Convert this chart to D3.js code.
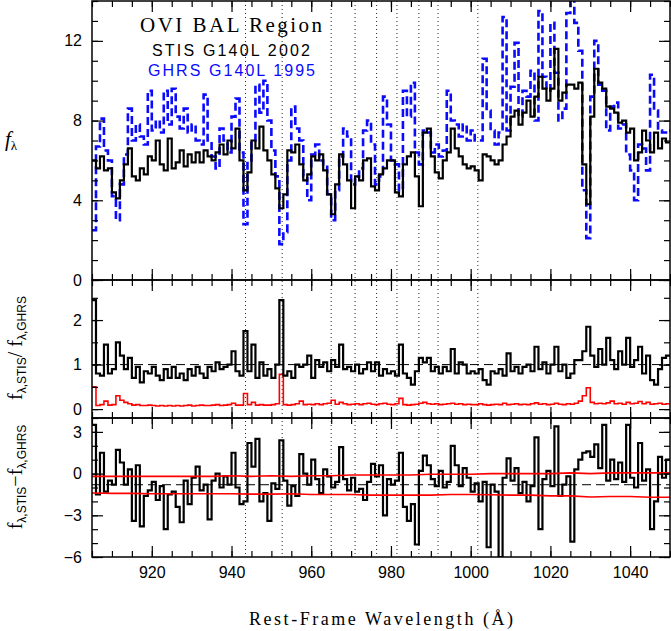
<!DOCTYPE html>
<html>
<head>
<meta charset="utf-8">
<script src="https://cdn.jsdelivr.net/npm/d3@7"></script>
<style>
body{margin:0;background:#fff}
svg{display:block}
.tk text{font-family:'Liberation Sans',Arial,sans-serif;font-size:16px;fill:#000}
.tk line{stroke:#000;stroke-width:1.2}
</style>
</head>
<body>
<svg id="chart" width="671" height="631"></svg>
<script>
// 1 A bins, left edges 905 .. 1049
const wave = d3.range(905, 1050, 1);
const stis = [
 6.0,5.6,6.2,5.5,5.6,4.4,4.1,5.0,5.8,6.6,
 5.2,5.0,5.6,5.3,6.2,6.0,7.0,5.8,5.5,7.1,
 5.6,5.9,6.5,5.7,6.3,5.9,6.4,5.9,6.5,6.2,
 6.0,6.4,6.8,6.3,7.0,6.6,7.6,6.0,4.5,5.4,
 7.0,6.6,7.7,6.5,6.0,5.3,4.6,3.6,4.3,6.5,
 6.4,6.8,5.8,5.0,5.3,6.2,6.0,6.3,5.5,4.3,
 3.3,4.8,6.3,5.8,5.0,3.6,5.2,5.0,6.0,6.1,
 4.7,4.5,5.3,5.6,6.0,6.0,4.4,4.2,5.8,6.2,
 6.4,5.2,3.7,7.4,7.6,6.2,5.4,5.1,6.0,6.4,
 7.6,6.6,6.2,5.8,5.6,5.7,5.5,5.0,6.3,6.2,
 6.0,5.8,6.0,6.8,7.2,8.2,8.5,7.8,8.4,9.0,
 8.2,9.2,10.2,9.6,9.0,9.6,11.6,9.0,9.4,9.8,
 9.8,9.6,9.9,5.8,3.8,8.2,10.6,9.9,9.6,8.7,
 8.6,8.4,7.9,8.0,7.4,7.6,6.0,6.4,7.5,7.0,
 6.4,7.4,6.6,7.1,6.9];
const ghrs = [
 2.5,6.7,8.1,6.5,6.0,4.2,3.0,4.8,6.3,8.6,
 7.0,7.8,7.2,6.8,9.5,7.5,8.0,7.4,9.5,7.8,
 9.6,8.2,7.6,8.6,7.4,7.8,7.0,6.8,9.3,7.0,
 6.2,5.6,7.6,7.0,6.4,8.2,9.1,6.4,2.8,6.0,
 7.0,9.8,8.4,10.0,8.0,6.5,5.2,1.8,2.4,6.0,
 8.7,7.6,7.0,5.2,4.0,6.3,6.8,6.0,5.8,4.3,
 3.0,4.5,6.2,7.6,7.2,4.8,5.2,5.6,7.5,8.0,
 6.8,4.8,5.2,9.2,7.8,6.0,5.8,4.5,9.5,8.2,
 9.9,6.4,5.8,7.5,7.4,6.4,6.8,6.2,6.5,9.5,
 8.0,7.8,7.2,7.8,7.0,7.5,7.0,7.0,11.1,8.5,
 7.5,6.8,7.4,13.2,7.5,9.7,11.9,8.2,9.5,9.2,
 10.5,8.0,13.5,10.2,9.5,12.9,10.4,8.0,8.6,13.4,
 14.2,12.9,11.5,4.5,2.1,9.2,12.0,9.8,9.5,7.5,
 8.7,8.9,7.6,7.8,6.3,5.5,4.0,6.8,6.6,5.5,
 10.3,8.5,7.5,7.4,7.5];
const ratio = [
 2.45,0.8,0.75,1.45,0.8,0.9,1.5,1.2,0.9,1.15,
 0.7,0.95,0.6,0.85,0.8,0.95,0.75,0.65,0.9,0.7,
 0.95,0.7,0.8,0.65,0.9,0.75,0.95,0.8,0.7,0.95,
 0.85,1.05,0.9,0.95,1.0,1.3,0.85,0.75,1.75,0.85,
 1.45,0.7,1.05,0.75,0.9,0.7,1.0,2.45,0.75,0.85,
 0.7,1.0,0.95,1.0,1.2,0.7,1.1,0.95,1.05,0.85,
 1.1,0.95,1.45,0.9,0.95,0.85,1.0,0.8,0.9,1.05,
 0.85,1.05,0.75,0.9,0.8,0.85,0.75,1.45,0.8,0.7,
 0.55,0.85,1.15,1.05,1.15,0.85,0.95,0.8,0.95,0.85,
 1.35,0.8,1.05,1.0,0.8,0.85,0.8,0.9,0.65,0.55,
 0.85,0.8,0.9,0.75,1.25,0.85,0.95,0.8,0.95,1.0,
 0.85,1.4,0.9,1.05,0.8,1.0,1.4,0.85,1.0,0.7,
 0.8,1.1,1.1,1.3,1.85,1.2,0.95,1.35,1.0,1.6,
 1.1,0.9,1.3,1.0,1.6,0.95,1.1,1.4,0.8,1.2,
 0.65,0.55,0.9,1.15,1.2];
const ratioErr = [
 0.5,0.08,0.1,0.18,0.09,0.1,0.3,0.2,0.15,0.12,
 0.09,0.1,0.08,0.08,0.09,0.08,0.07,0.08,0.07,0.08,
 0.07,0.08,0.07,0.08,0.09,0.07,0.08,0.09,0.08,0.08,
 0.09,0.1,0.08,0.09,0.1,0.13,0.09,0.09,0.35,0.1,
 0.15,0.09,0.1,0.09,0.09,0.1,0.12,0.78,0.1,0.09,
 0.1,0.12,0.18,0.1,0.11,0.1,0.12,0.1,0.12,0.13,
 0.2,0.11,0.15,0.12,0.1,0.11,0.12,0.1,0.12,0.13,
 0.11,0.1,0.12,0.13,0.11,0.1,0.12,0.24,0.1,0.09,
 0.1,0.11,0.13,0.15,0.12,0.11,0.12,0.1,0.11,0.12,
 0.13,0.11,0.12,0.1,0.11,0.1,0.1,0.12,0.1,0.09,
 0.1,0.11,0.1,0.13,0.1,0.11,0.12,0.1,0.11,0.1,
 0.12,0.14,0.11,0.12,0.1,0.11,0.13,0.11,0.1,0.12,
 0.11,0.13,0.18,0.3,0.48,0.15,0.12,0.13,0.12,0.14,
 0.18,0.12,0.13,0.11,0.15,0.12,0.13,0.17,0.12,0.15,
 0.11,0.12,0.13,0.11,0.12];
const diff = [
 3.5,-1.5,1.5,-1.3,-0.5,-0.8,1.7,0.8,-0.8,0.3,
 -3.4,0.6,-3.8,-1.6,-1.2,-0.6,-1.9,-0.9,-4.0,-1.5,
 -1.3,-2.4,-3.5,-0.5,-2.2,-0.3,0.5,-1.2,-0.8,-3.3,
 -0.5,0.0,-1.0,-0.2,-0.8,1.5,-1.0,-2.2,-2.0,2.2,
 0.5,2.5,-2.0,-1.4,-3.4,-0.7,-1.1,2.4,-0.5,-2.3,
 -0.9,-1.6,1.4,0.0,-0.8,1.0,-0.4,-1.4,0.3,-0.2,
 -1.0,-0.6,1.9,-0.4,-1.2,-0.3,-1.3,-1.1,-1.9,-0.6,
 0.7,-0.2,0.6,-3.0,-0.4,-0.8,-0.5,1.5,-2.4,-3.4,
 -2.2,-5.1,0.2,1.3,0.6,-0.4,-0.9,0.2,-1.0,-0.6,
 2.0,0.6,-0.9,0.4,-0.3,-1.3,-0.7,-2.0,-0.6,-5.3,
 -0.8,-1.3,-6.0,-0.3,1.1,-0.5,0.4,-1.4,-0.6,-2.0,
 -0.9,2.6,-4.0,-0.4,0.2,-0.9,3.4,-1.6,-0.8,-0.2,
 -4.9,0.3,1.0,1.5,1.6,1.2,2.1,0.4,3.5,-0.5,
 1.0,-0.4,0.8,-0.6,3.5,-0.3,-1.0,2.2,-0.5,0.3,
 -4.0,-2.0,1.2,-0.3,1.0];
// error envelope of the difference, sampled every 5 A
const errWave = d3.range(905, 1051, 5);
const diffHi = [-0.2,-0.2,-0.2,-0.2,-0.2,-0.2,-0.2,-0.15,-0.2,-0.15,-0.2,-0.15,-0.15,-0.1,-0.1,
 -0.1,-0.1,-0.05,-0.05,-0.05,0.0,0.0,0.0,0.0,0.05,0.0,0.05,0.05,0.05,0.05];
const diffLo = [-1.4,-1.42,-1.42,-1.45,-1.45,-1.45,-1.45,-1.45,-1.48,-1.48,-1.45,-1.5,-1.5,-1.5,-1.55,
 -1.55,-1.55,-1.55,-1.5,-1.5,-1.52,-1.55,-1.55,-1.6,-1.6,-1.68,-1.65,-1.65,-1.7,-1.7];
const ratioRef = 1, diffRef = -0.8;
const features = [943.5, 952.7, 965.0, 971.0, 976.4, 981.5, 987.0, 991.8, 1001.8];
const xMajor = [920, 940, 960, 980, 1000, 1020, 1040];
const xMinor = d3.range(905, 1051, 5);

let svg = d3.select('#chart');
let x = d3.scaleLinear().domain([905, 1050]).range([92, 670]);

let panels = [
  {id:'p1', top:1, bottom:280, domain:[0,14], major:[0,4,8,12], minor:d3.range(0,15,1)},
  {id:'p2', top:280, bottom:418, domain:[-0.2,2.9], major:[0,1,2], minor:d3.range(0,3,0.5)},
  {id:'p3', top:418, bottom:557, domain:[-6,4], major:[-6,-3,0,3], minor:d3.range(-6,5,1)}
];
panels.forEach(p => p.y = d3.scaleLinear().domain(p.domain).range([p.bottom, p.top]));

let defs = svg.append('defs');
panels.forEach(p => {
  defs.append('clipPath').attr('id','clip-'+p.id)
    .append('rect').attr('x',92).attr('y',p.top).attr('width',578).attr('height',p.bottom-p.top);
});

function stepLine(p, vals){
  let pts = wave.map((w,i) => [w, vals[i]]);
  pts.push([1050, vals[vals.length-1]]);
  return d3.line().x(d => x(d[0])).y(d => p.y(d[1])).curve(d3.curveStepAfter)(pts);
}

function plotStep(p, vals, stroke, width, dash){
  svg.append('path')
    .attr('clip-path','url(#clip-'+p.id+')')
    .attr('d', stepLine(p, vals))
    .attr('fill','none')
    .attr('stroke',stroke)
    .attr('stroke-width',width)
    .attr('stroke-dasharray',dash || null);
}

function hline(p, v){
  svg.append('line')
    .attr('x1',92).attr('x2',670)
    .attr('y1',p.y(v)).attr('y2',p.y(v))
    .attr('stroke','#000').attr('stroke-width',1)
    .attr('stroke-dasharray','9,5');
}

// feature markers
svg.append('g').selectAll('line').data(features).join('line')
  .attr('x1',d => x(d)).attr('x2',d => x(d))
  .attr('y1',1).attr('y2',557)
  .attr('stroke','#222').attr('stroke-width',1)
  .attr('stroke-dasharray','1,3');

// panel 1: spectra
plotStep(panels[0], ghrs, '#0a0aff', 2.6, '8,4');
plotStep(panels[0], stis, '#000', 2.2);

// panel 2: ratio
hline(panels[1], ratioRef);
plotStep(panels[1], ratioErr, '#ff0000', 1.6);
plotStep(panels[1], ratio, '#000', 2.2);

// panel 3: difference
hline(panels[2], diffRef);
plotStep(panels[2], diff, '#000', 2.2);
let errLine = (vals) => d3.line().x((d,i) => x(errWave[i])).y(d => panels[2].y(d))(vals);
[diffHi, diffLo].forEach(vals => {
  svg.append('path').attr('d', errLine(vals))
    .attr('fill','none').attr('stroke','#ff0000').attr('stroke-width',1.6);
});

// axes and frames
panels.forEach((p, k) => {
  let yfmt = d3.format('d');
  let gl = svg.append('g').attr('class','tk').attr('transform','translate(92,0)');
  gl.call(d3.axisLeft(p.y).tickValues(p.minor).tickSize(-6).tickFormat(''));
  gl.select('.domain').remove();
  let glm = svg.append('g').attr('class','tk').attr('transform','translate(92,0)');
  glm.call(d3.axisLeft(p.y).tickValues(p.major).tickSize(-11).tickPadding(10).tickFormat(yfmt));
  glm.select('.domain').remove();

  let gr = svg.append('g').attr('class','tk').attr('transform','translate(670,0)');
  gr.call(d3.axisRight(p.y).tickValues(p.minor).tickSize(-6).tickFormat(''));
  gr.select('.domain').remove();
  let grm = svg.append('g').attr('class','tk').attr('transform','translate(670,0)');
  grm.call(d3.axisRight(p.y).tickValues(p.major).tickSize(-11).tickFormat(''));
  grm.select('.domain').remove();

  [[d3.axisTop, p.top], [d3.axisBottom, p.bottom]].forEach(([ax, yy]) => {
    let gx = svg.append('g').attr('class','tk').attr('transform',`translate(0,${yy})`);
    gx.call(ax(x).tickValues(xMinor).tickSize(-6).tickFormat(''));
    gx.select('.domain').remove();
    let gxm = svg.append('g').attr('class','tk').attr('transform',`translate(0,${yy})`);
    let showLabels = (ax === d3.axisBottom && k === 2);
    gxm.call(ax(x).tickValues(xMajor).tickSize(-11).tickPadding(10)
      .tickFormat(showLabels ? d3.format('d') : ''));
    gxm.select('.domain').remove();
  });

  svg.append('rect')
    .attr('x',92).attr('y',p.top).attr('width',578).attr('height',p.bottom-p.top)
    .attr('fill','none').attr('stroke','#000').attr('stroke-width',1.5);
});

// legend / title text
const serif = "'Liberation Serif','DejaVu Serif',serif";
const sans = "'Liberation Sans',Arial,sans-serif";
svg.append('text').attr('x',140).attr('y',32).attr('textLength',182)
  .style('font-family',serif).style('font-size','21px').text('OVI BAL Region');
svg.append('text').attr('x',152).attr('y',56).attr('textLength',158)
  .style('font-family',sans).style('font-size','16px').text('STIS G140L 2002');
svg.append('text').attr('x',148).attr('y',76).attr('textLength',167)
  .style('font-family',sans).style('font-size','16px').attr('fill','#0a0aff').text('GHRS G140L 1995');

// x title
svg.append('text').attr('x',249).attr('y',625).attr('textLength',264)
  .style('font-family',serif).style('font-size','18px').text('Rest-Frame Wavelength (Å)');

// y labels
let yl1 = svg.append('text').attr('x',5).attr('y',146).style('font-family',serif);
yl1.append('tspan').style('font-style','italic').style('font-size','21px').text('f');
yl1.append('tspan').attr('dy',4).style('font-size','13px').text('λ');

function rotLabel(cx, cy, sep){
  let t = svg.append('text').attr('transform',`translate(${cx},${cy}) rotate(-90)`)
    .attr('text-anchor','middle').style('font-family',serif).style('font-size','20px');
  t.append('tspan').text('f');
  t.append('tspan').attr('dy',4).style('font-size','12px').style('font-family',sans).text('λ,STIS');
  t.append('tspan').attr('dy',-4).text(sep);
  t.append('tspan').text('f');
  t.append('tspan').attr('dy',4).style('font-size','12px').style('font-family',sans).text('λ,GHRS');
}
rotLabel(22, 348, '/ ');
rotLabel(22, 477, '−');
</script>
</body>
</html>
